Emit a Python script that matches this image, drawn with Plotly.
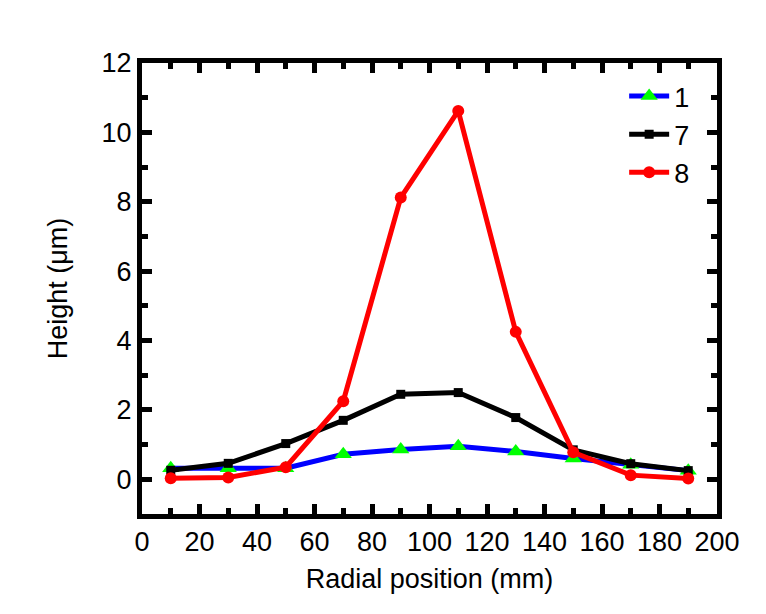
import plotly.graph_objects as go

radial_mm = [10, 30, 50, 70, 90, 110, 130, 150, 170, 190]
series_1 = [0.32, 0.32, 0.32, 0.72, 0.86, 0.95, 0.80, 0.60, 0.42, 0.25]
series_7 = [0.26, 0.46, 1.03, 1.70, 2.45, 2.50, 1.78, 0.85, 0.45, 0.25]
series_8 = [0.03, 0.05, 0.35, 2.25, 8.12, 10.62, 4.25, 0.78, 0.12, 0.02]

FONT = "Liberation Sans, Arial, sans-serif"

fig = go.Figure()
fig.add_trace(go.Scatter(x=radial_mm, y=series_1, name="1", mode="lines+markers",
                         line=dict(color="#0000FF", width=5),
                         marker=dict(symbol="triangle-up", size=15, color="#00FF00")))
fig.add_trace(go.Scatter(x=radial_mm, y=series_7, name="7", mode="lines+markers",
                         line=dict(color="#000000", width=5),
                         marker=dict(symbol="square", size=9, color="#000000")))
fig.add_trace(go.Scatter(x=radial_mm, y=series_8, name="8", mode="lines+markers",
                         line=dict(color="#FF0000", width=5),
                         marker=dict(symbol="circle", size=12, color="#FF0000")))

axis_common = dict(showline=True, linecolor="black", linewidth=5, mirror="ticks",
                   ticks="inside", ticklen=10, tickwidth=5, tickcolor="black",
                   showgrid=False, zeroline=False,
                   tickfont=dict(family=FONT, size=27, color="black"))

fig.update_layout(
    width=766, height=614,
    paper_bgcolor="white", plot_bgcolor="white",
    margin=dict(l=134, r=57, t=55, b=108),
    font=dict(family=FONT, color="black"),
    xaxis=dict(range=[0, 200], dtick=20,
               minor=dict(dtick=10, ticks="inside", ticklen=6, tickwidth=5, tickcolor="black"),
               title=dict(text="Radial position (mm)", font=dict(family=FONT, size=27), standoff=14),
               **axis_common),
    yaxis=dict(range=[-1, 12], tickvals=[0, 2, 4, 6, 8, 10, 12],
               minor=dict(dtick=1, ticks="inside", ticklen=6, tickwidth=5, tickcolor="black"),
               title=dict(text="Height (μm)", font=dict(family=FONT, size=27), standoff=28),
               **axis_common),
    legend=dict(x=0.962, y=0.98, xanchor="right", yanchor="top",
                bgcolor="rgba(0,0,0,0)", font=dict(family=FONT, size=27),
                tracegroupgap=0, itemwidth=40),
    showlegend=True,
)

fig.write_html("out.html")
